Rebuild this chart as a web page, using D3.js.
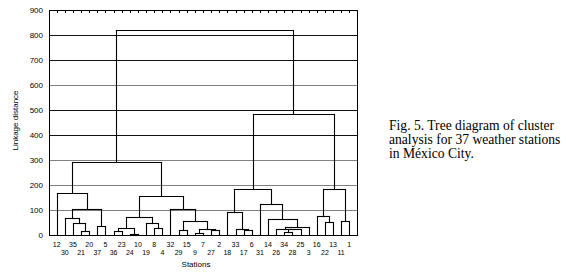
<!DOCTYPE html>
<html>
<head>
<meta charset="utf-8">
<script src="https://cdn.jsdelivr.net/npm/d3@7/dist/d3.min.js"></script>
<style>
  html, body { margin: 0; padding: 0; background: #fff; }
  svg { display: block; }
</style>
</head>
<body>
<svg id="chart" width="566" height="277"></svg>
<script>
// ---- data ----
const stations = ["12","30","35","21","20","37","5","36","23","24","10","19","8","4",
  "32","29","15","9","7","27","2","18","33","17","6","31","14","26","34","28","25","3",
  "16","22","13","11","1"];
// merges: [left child, right child, linkage distance]; "mN" = merge N
const merges = [
  ["21","20",16], ["35","m0",47], ["30","m1",67], ["37","5",34], ["m2","m3",103],
  ["12","m4",169], ["36","23",15], ["24","10",5], ["m6","m7",29], ["8","4",27],
  ["19","m9",47], ["m8","m10",71], ["29","15",19], ["9","7",10], ["27","2",20],
  ["m13","m14",25], ["m12","m15",56], ["32","m16",103], ["m11","m17",157], ["m5","m18",291],
  ["17","6",19], ["33","m20",23], ["18","m21",91], ["34","28",13], ["m23","25",22],
  ["26","m24",24], ["m25","3",31], ["14","m26",63], ["31","m27",123], ["m22","m28",183],
  ["22","13",51], ["16","m30",77], ["11","1",56], ["m31","m32",183], ["m29","m33",483],
  ["m19","m34",820]
];
const yTicks = [0,100,200,300,400,500,600,700,800,900];
const yTitle = "Linkage distance";
const xTitle = "Stations";
const caption = ["Fig. 5. Tree diagram of cluster", "analysis for 37 weather stations", "in México City."];

// ---- layout ----
const svg = d3.select("#chart");
const L = 49, R = 357, T = 10, B = 235;
const x = d3.scalePoint().domain(stations).range([L, R]).padding(0.95);
const y = d3.scaleLinear().domain([0, 900]).range([B, T]);
const px = v => Math.round(v) + 0.5;

// gridlines
svg.append("g").selectAll("line").data(yTicks.filter(d => d > 0 && d < 900)).join("line")
  .attr("x1", L).attr("x2", R)
  .attr("y1", d => px(y(d))).attr("y2", d => px(y(d)))
  .attr("stroke", d => d >= 400 && d !== 600 ? "#111" : "#808080")
  .attr("stroke-width", 1);

// frame
svg.append("rect").attr("x", L + 0.5).attr("y", T + 0.5)
  .attr("width", R - L).attr("height", B - T)
  .attr("fill", "none").attr("stroke", "#000").attr("stroke-width", 1);

// top minor ticks (one per station)
svg.append("g").selectAll("line").data(stations).join("line")
  .attr("x1", d => px(x(d))).attr("x2", d => px(x(d)))
  .attr("y1", T + 1).attr("y2", T + 3)
  .attr("stroke", "#000").attr("stroke-width", 1);

// y axis labels
svg.append("g").selectAll("text").data(yTicks).join("text")
  .attr("x", L - 6).attr("y", d => y(d) + 3)
  .attr("text-anchor", "end")
  .attr("font-family", "Liberation Sans, Arial, sans-serif")
  .attr("font-size", 8).attr("fill", "#000")
  .text(d => d);

// y title
svg.append("text")
  .attr("transform", `translate(18,${(T + B) / 2 - 2}) rotate(-90)`)
  .attr("text-anchor", "middle")
  .attr("font-family", "Liberation Sans, Arial, sans-serif")
  .attr("font-size", 8).attr("fill", "#000")
  .text(yTitle);

// station labels (alternating rows)
svg.append("g").selectAll("text").data(stations).join("text")
  .attr("x", d => x(d))
  .attr("y", (d, i) => i % 2 === 0 ? 247 : 254.5)
  .attr("text-anchor", "middle")
  .attr("font-family", "Liberation Sans, Arial, sans-serif")
  .attr("font-size", 7).attr("fill", "#000")
  .text(d => d);

// x title
svg.append("text").attr("x", 196).attr("y", 267)
  .attr("text-anchor", "middle")
  .attr("font-family", "Liberation Sans, Arial, sans-serif")
  .attr("font-size", 8).attr("fill", "#000")
  .text(xTitle);

// ---- dendrogram ----
const node = {};
stations.forEach(s => node[s] = { x: x(s), h: 0 });
const segs = [];
merges.forEach((m, i) => {
  const a = node[m[0]], b = node[m[1]], h = m[2];
  segs.push([a.x, y(a.h), a.x, y(h)]);
  segs.push([b.x, y(b.h), b.x, y(h)]);
  segs.push([a.x, y(h), b.x, y(h)]);
  node["m" + i] = { x: (a.x + b.x) / 2, h: h };
});
svg.append("g").selectAll("line").data(segs).join("line")
  .attr("x1", d => px(d[0])).attr("y1", d => px(d[1]))
  .attr("x2", d => px(d[2])).attr("y2", d => px(d[3]))
  .attr("stroke", "#000").attr("stroke-width", 1.1)
  .attr("stroke-linecap", "square");

// caption
svg.append("g").selectAll("text").data(caption).join("text")
  .attr("x", 389).attr("y", (d, i) => 130 + i * 14)
  .attr("font-family", "Liberation Serif, Times New Roman, serif")
  .attr("font-size", 13.6).attr("fill", "#000")
  .text(d => d);
</script>
</body>
</html>
